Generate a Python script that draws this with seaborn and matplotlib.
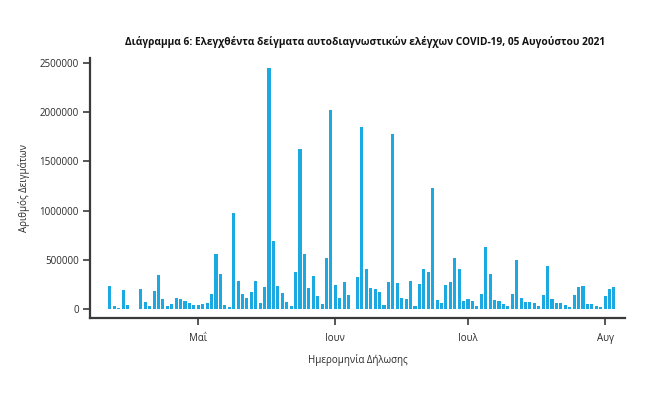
import pandas as pd
import matplotlib
matplotlib.use('Agg')
import matplotlib.pyplot as plt
import seaborn as sns

# daily self-test samples (thousands), 11 Apr - 4 Aug 2021
start_date = '2021-04-11'
apr_vals = [234, 30, 7, 193, 41, 5, 0, 200, 68, 30, 183, 342, 105, 30, 51, 108, 102, 78, 58, 41]
may_vals = [41, 51, 64, 149, 559, 356, 44, 24, 976, 281,
            152, 108, 173, 285, 58, 224, 2446, 694, 234, 166,
            75, 30, 379, 1626, 559, 217, 335, 132, 47, 515, 2022]
jun_vals = [240, 115, 271, 142, 0, 329, 1853, 407, 217, 200,
            176, 41, 278, 1779, 261, 115, 105, 285, 34, 254,
            407, 373, 1233, 91, 62, 242, 273, 518, 403, 78]
jul_vals = [102, 78, 34, 156, 633, 356, 88, 81, 54, 27,
            152, 498, 108, 75, 71, 61, 30, 139, 434, 98,
            61, 61, 44, 24, 142, 220, 234, 54, 47, 34, 20]
aug_vals = [132, 203, 227, 3]

month_ticks = ['2021-05-01', '2021-06-01', '2021-07-01', '2021-08-01']
month_labels = ['Μαΐ', 'Ιουν', 'Ιουλ', 'Αυγ']
y_ticks = [0, 500000, 1000000, 1500000, 2000000, 2500000]

values = [v * 1000 for v in apr_vals + may_vals + jun_vals + jul_vals + aug_vals]
dates = pd.date_range(start_date, periods=len(values), freq='D')
df = pd.DataFrame({'date': dates, 'samples': values})
df['idx'] = range(len(df))

sns.set_style('white')
plt.rcParams['font.family'] = ['Open Sans', 'DejaVu Sans']

fig = plt.figure(figsize=(6.47, 3.98), dpi=100)
ax = fig.add_axes([0.139, 0.201, 0.827, 0.653])

sns.barplot(data=df, x='idx', y='samples', color='#1CA9E1', saturation=1,
            width=0.7, linewidth=0, ax=ax)

# month ticks at the first day of each month
tick_pos = [df.index[df['date'] == pd.Timestamp(d)][0] for d in month_ticks]
ax.set_xticks(tick_pos)
ax.set_xticklabels(month_labels, fontsize=7, color='#2a2a2a')
ax.set_yticks(y_ticks)
ax.set_yticklabels([str(t) for t in y_ticks], fontsize=7, color='#2a2a2a')

ax.set_xlim(-4.5, 116.5)
ax.set_ylim(-91000, 2551000)

for side in ['top', 'right']:
    ax.spines[side].set_visible(False)
for side in ['left', 'bottom']:
    ax.spines[side].set_color('#3a3a3a')
    ax.spines[side].set_linewidth(1.6)

ax.tick_params(axis='y', length=5, width=1.2, color='#3a3a3a', direction='out', left=True, pad=3)
ax.tick_params(axis='x', length=5, width=1.2, color='#3a3a3a', direction='out', bottom=True, pad=6)

ax.set_xlabel('Ημερομηνία Δήλωσης', fontsize=7, color='#2a2a2a', labelpad=7)
ax.set_ylabel('Αριθμός Δειγμάτων', fontsize=7, color='#2a2a2a', labelpad=7)

fig.text(0.564, 0.895,
         'Διάγραμμα 6: Ελεγχθέντα δείγματα αυτοδιαγνωστικών ελέγχων COVID-19, 05 Αυγούστου 2021',
         ha='center', va='center', fontsize=7.3, fontweight='bold', color='#111111')

fig.savefig('out.png', dpi=100)
